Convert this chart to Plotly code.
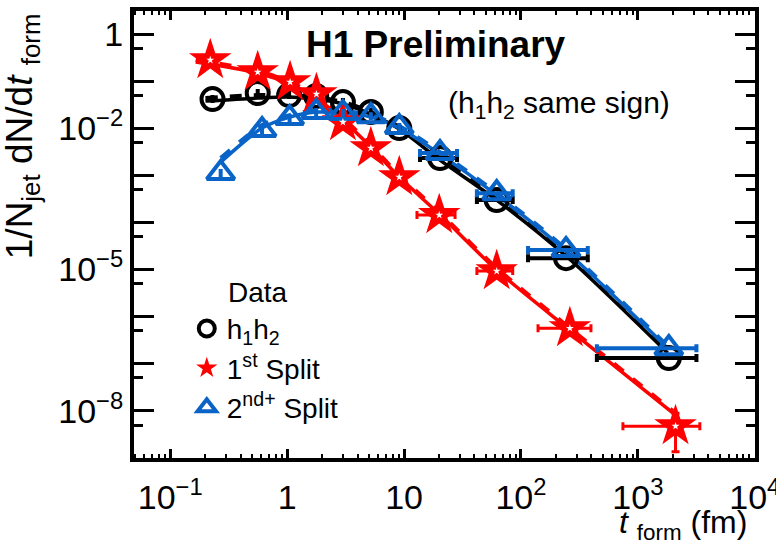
import plotly.graph_objects as go

# ---------------- data ----------------
x_pair = [0.23, 0.56, 1.04, 1.77, 3.0, 5.2, 9.1, 20.3, 62, 243, 1840]
y_pair = [0.0417, 0.0559, 0.0507, 0.0483, 0.036, 0.0221, 0.0101, 0.00233, 2.99e-4, 1.75e-5, 1.32e-7]
xerr_hi_pair = [0, 0, 0, 0, 0, 0, 0, 8.1, 23, 130, 1330]
xerr_lo_pair = [0, 0, 0, 0, 0, 0, 0, 6.6, 20, 128, 1394]

x_first = [0.22, 0.56, 1.06, 1.78, 3.0, 5.2, 9.1, 20, 62, 262, 2100]
y_first = [0.281, 0.156, 0.0957, 0.0532, 0.0135, 0.0038, 9.2e-4, 1.44e-4, 9.3e-6, 5.7e-7, 4.75e-9]
xerr_hi_first = [0, 0, 0, 0, 0, 0, 0, 7.3, 23, 135, 1290]
xerr_lo_first = [0, 0, 0, 0, 0, 0, 0, 7.1, 20, 122, 1355]
yerr_hi_first = [0, 0, 0, 0, 0, 0, 0, 0, 0, 0, 4.2e-9]
yerr_lo_first = [0, 0, 0, 0, 0, 0, 0, 0, 0, 0, 3.4e-9]

x_second = [0.27, 0.61, 1.05, 1.77, 3.0, 5.2, 9.1, 20.3, 62, 243, 1840]
y_second = [1.12e-3, 9.2e-3, 0.0165, 0.0221, 0.021, 0.0181, 0.0106, 2.97e-3, 4.2e-4, 2.6e-5, 2.15e-7]
xerr_hi_second = [0, 0, 0, 0, 0, 0, 0, 8.1, 23, 130, 1330]
xerr_lo_second = [0, 0, 0, 0, 0, 0, 0, 6.6, 20, 128, 1394]

# model curves (solid and dashed)
mx_pair = [0.2, 0.56, 1.04, 1.77, 3.0, 5.2, 9.1, 20.3, 62, 243, 1800]
my_pair_solid = [0.0378, 0.0438, 0.0459, 0.0417, 0.0327, 0.0200, 0.0096, 0.00211, 2.99e-4, 1.94e-5, 1.69e-7]
my_pair_dash = [0.0438, 0.0507, 0.0507, 0.0459, 0.036, 0.0221, 0.0106, 0.00245, 3.46e-4, 2.13e-5, 1.86e-7]

mx_first = [0.165, 0.56, 1.06, 1.78, 3.0, 5.2, 9.1, 20, 62, 262, 2000]
my_first_solid = [0.255, 0.149, 0.0867, 0.0438, 0.0149, 0.00399, 9.2e-4, 1.51e-4, 9.75e-6, 5.2e-7, 8.98e-9]
my_first_dash = [0.281, 0.164, 0.0957, 0.0483, 0.0165, 0.0044, 1.01e-3, 1.66e-4, 1.08e-5, 5.73e-7, 9.9e-9]

mx_second = [0.27, 0.61, 1.05, 1.77, 3.0, 5.2, 9.1, 20.3, 62, 243, 1800]
my_second_solid = [1.91e-3, 0.0101, 0.0173, 0.0221, 0.021, 0.0173, 0.0101, 2.83e-3, 3.82e-4, 2.47e-5, 2.15e-7]
my_second_dash = [2.33e-3, 0.0117, 0.019, 0.0243, 0.0232, 0.019, 0.0111, 3.13e-3, 4.21e-4, 2.72e-5, 2.38e-7]

x_tickvals = [0.1, 1, 10, 100, 1000, 10000]
x_ticktext = ["10<sup>\u22121</sup>", "1", "10", "10<sup>2</sup>", "10<sup>3</sup>", "10<sup>4</sup>"]
y_tickvals = [1, 1e-2, 1e-5, 1e-8]
y_ticktext = ["1", "10<sup>\u22122</sup>", "10<sup>\u22125</sup>", "10<sup>\u22128</sup>"]
y_unlabeled_decades = [1e-1, 1e-3, 1e-4, 1e-6, 1e-7, 1e-9]
y_half_ticks = [5e-1, 5e-2, 5e-3, 5e-4, 5e-5, 5e-6, 5e-7, 5e-8, 5e-9]
x_minorvals = [m * 10 ** e for e in range(-2, 4) for m in range(2, 10)]

BLACK = "#000000"
RED = "#ff0000"
BLUE = "#0a64c8"
FONT = "Liberation Sans, Arial, sans-serif"

fig = go.Figure()

# model lines
for mx, ys, yd, col in [
    (mx_pair, my_pair_solid, my_pair_dash, BLACK),
    (mx_first, my_first_solid, my_first_dash, RED),
    (mx_second, my_second_solid, my_second_dash, BLUE),
]:
    fig.add_trace(go.Scatter(x=mx, y=ys, mode="lines", showlegend=False,
                             line=dict(color=col, width=3.5, shape="spline", smoothing=0.8),
                             hoverinfo="skip"))
    fig.add_trace(go.Scatter(x=mx, y=yd, mode="lines", showlegend=False,
                             line=dict(color=col, width=4, dash="dash", shape="spline", smoothing=0.8),
                             hoverinfo="skip"))

# data points
fig.add_trace(go.Scatter(
    x=x_pair, y=y_pair, mode="markers", name="h<sub>1</sub>h<sub>2</sub>",
    marker=dict(symbol="circle-open", size=22, color=BLACK, line=dict(width=4, color=BLACK)),
    error_x=dict(type="data", symmetric=False, array=xerr_hi_pair, arrayminus=xerr_lo_pair,
                 color=BLACK, thickness=4, width=4),
))
fig.add_trace(go.Scatter(
    x=x_first, y=y_first, mode="markers", name="1<sup>st</sup> Split",
    marker=dict(symbol="star", size=32, color=RED, line=dict(width=0)),
    error_x=dict(type="data", symmetric=False, array=xerr_hi_first, arrayminus=xerr_lo_first,
                 color=RED, thickness=3, width=4),
    error_y=dict(type="data", symmetric=False, array=yerr_hi_first, arrayminus=yerr_lo_first,
                 color=RED, thickness=3, width=4),
))
fig.add_trace(go.Scatter(
    x=x_first, y=y_first, mode="markers", showlegend=False, hoverinfo="skip",
    marker=dict(symbol="star", size=6, color="white", line=dict(width=0)),
    yaxis="y2",
))
fig.add_trace(go.Scatter(
    x=x_second, y=y_second, mode="markers", name="2<sup>nd+</sup> Split",
    marker=dict(symbol="triangle-up-open", size=24, color=BLUE, line=dict(width=4, color=BLUE)),
    error_x=dict(type="data", symmetric=False, array=xerr_hi_second, arrayminus=xerr_lo_second,
                 color=BLUE, thickness=4, width=4),
))

axis_common = dict(
    type="log", showline=True, linecolor="black", linewidth=4, mirror="ticks",
    ticks="inside", tickcolor="black", tickwidth=3, showgrid=False, zeroline=False,
    automargin=False,
    tickfont=dict(family=FONT, size=34, color="black"),
)

fig.update_xaxes(**axis_common, range=[-1.31, 4.002], tickmode="array",
                 tickvals=x_tickvals, ticktext=x_ticktext, ticklen=9, ticklabelstandoff=6,
                 ticklabeloverflow="allow",
                 minor=dict(tickmode="array", tickvals=x_minorvals, ticks="inside",
                            ticklen=4, tickwidth=2, tickcolor="black"))
fig.update_yaxes(**axis_common, range=[-9.0, 0.49], tickmode="array",
                 tickvals=y_tickvals, ticktext=y_ticktext, ticklen=20,
                 minor=dict(tickmode="array", tickvals=y_unlabeled_decades, ticks="inside",
                            ticklen=20, tickwidth=3, tickcolor="black"))

fig.update_layout(
    width=776, height=547,
    margin=dict(l=134, r=21, t=11, b=89, autoexpand=False),
    paper_bgcolor="white", plot_bgcolor="white",
    font=dict(family=FONT, color="black"),
    showlegend=True,
    yaxis2=dict(type="log", overlaying="y", side="left", range=[-9.0, 0.49], automargin=False,
                tickmode="array", tickvals=y_half_ticks, showticklabels=False,
                ticks="inside", ticklen=9, tickwidth=3, tickcolor="black",
                mirror="ticks", showline=False, showgrid=False, zeroline=False),
    legend=dict(x=0.085, y=0.345, xanchor="left", yanchor="top", bgcolor="rgba(0,0,0,0)",
                font=dict(family=FONT, size=28, color="black"),
                tracegroupgap=6, itemwidth=30),
    annotations=[
        dict(text="<b>H1 Preliminary</b>", xref="paper", yref="paper", x=0.487, y=0.926,
             xanchor="center", yanchor="middle", showarrow=False,
             font=dict(family=FONT, size=37, color="black")),
        dict(text="(h<sub>1</sub>h<sub>2</sub> same sign)", xref="paper", yref="paper",
             x=0.503, y=0.79, xanchor="left", yanchor="middle", showarrow=False,
             font=dict(family=FONT, size=30, color="black")),
        dict(text="Data", xref="paper", yref="paper", x=0.148, y=0.371,
             xanchor="left", yanchor="middle", showarrow=False,
             font=dict(family=FONT, size=28, color="black")),
        dict(text="1/N<sub>jet</sub> dN/d<i>t</i> <sub>form</sub>", xref="paper", yref="paper",
             x=-0.18, y=1.0, xanchor="center", yanchor="top", textangle=-90, showarrow=False,
             font=dict(family=FONT, size=37, color="black")),
        dict(text="<i>t</i> <sub>form</sub> (fm)", xref="paper", yref="paper",
             x=0.99, y=-0.098, xanchor="right", yanchor="top", showarrow=False,
             font=dict(family=FONT, size=32, color="black")),
    ],
)

fig.write_html("out.html")
